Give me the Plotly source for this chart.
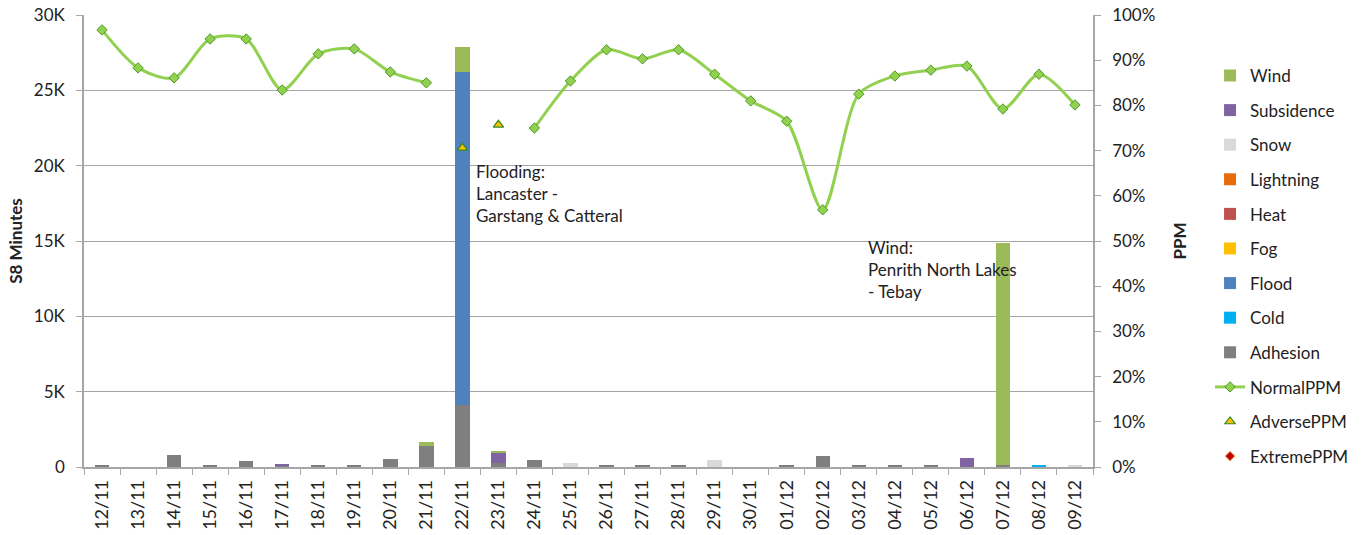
import plotly.graph_objects as go

dates = ["12/11","13/11","14/11","15/11","16/11","17/11","18/11","19/11","20/11","21/11",
         "22/11","23/11","24/11","25/11","26/11","27/11","28/11","29/11","30/11","01/12",
         "02/12","03/12","04/12","05/12","06/12","07/12","08/12","09/12"]

adhesion   = [90,0,820,70,380,130,70,70,530,1420,4100,250,470,0,70,70,70,0,0,70,730,70,70,70,0,150,0,0]
cold       = [0]*26 + [110, 0]
flood      = [0]*10 + [22100] + [0]*17
fog        = [0]*28
heat       = [0]*28
lightning  = [0]*28
snow       = [0]*13 + [290] + [0]*3 + [440] + [0]*9 + [150]
subsidence = [0,0,0,0,0,100,0,0,0,0,0,690,0,0,0,0,0,0,0,0,0,0,0,0,600,0,0,0]
wind       = [0]*9 + [220, 1700, 70] + [0]*13 + [14700, 0, 0]

normal_ppm = [0.967,0.883,0.861,0.947,0.947,0.834,0.914,0.925,0.874,0.850,
              None,None,0.750,0.854,0.923,0.903,0.923,0.869,0.810,0.765,
              0.569,0.825,0.865,0.878,0.887,0.792,0.869,0.801]
adverse_ppm = [None]*10 + [0.706, 0.757] + [None]*16
extreme_ppm = [None]*28

bar_series = [
    ("Adhesion", adhesion, "#7F7F7F", 9),
    ("Cold", cold, "#00B0F0", 8),
    ("Flood", flood, "#4F81BD", 7),
    ("Fog", fog, "#FFC000", 6),
    ("Heat", heat, "#C0504D", 5),
    ("Lightning", lightning, "#E46C0A", 4),
    ("Snow", snow, "#D9D9D9", 3),
    ("Subsidence", subsidence, "#8064A2", 2),
    ("Wind", wind, "#9BBB59", 1),
]

FONT = "Lato, 'Open Sans', sans-serif"

fig = go.Figure()
for name, vals, col, rank in bar_series:
    fig.add_trace(go.Bar(x=dates, y=vals, name=name, marker=dict(color=col, line=dict(width=0)),
                         legendrank=rank, legendgroup=name))

fig.add_trace(go.Scatter(x=dates, y=normal_ppm, name="NormalPPM", mode="lines+markers",
                         yaxis="y2", line=dict(color="#92D050", width=3, shape="spline", smoothing=0.8),
                         marker=dict(symbol="diamond", size=8, color="#92D050",
                                     line=dict(color="#4E9A2A", width=1)),
                         connectgaps=False, legendrank=10, legendgroup="NormalPPM"))
fig.add_trace(go.Scatter(x=dates, y=adverse_ppm, name="AdversePPM", mode="markers",
                         yaxis="y2",
                         marker=dict(symbol="triangle-up", size=9, color="#FFC000",
                                     line=dict(color="#2E8B22", width=1.2)),
                         legendrank=11, legendgroup="AdversePPM"))
fig.add_trace(go.Scatter(x=dates, y=extreme_ppm, name="ExtremePPM", mode="markers",
                         yaxis="y2",
                         marker=dict(symbol="diamond", size=7, color="#C00000",
                                     line=dict(color="#E46C0A", width=1)),
                         legendrank=12, legendgroup="ExtremePPM"))

fig.add_annotation(x=10, y=0.682, xref="x", yref="y2", xanchor="left", yanchor="top",
                   xshift=12, text="Flooding:<br>Lancaster -<br>Garstang & Catteral",
                   showarrow=False, align="left", font=dict(size=17, color="#222"))
fig.add_annotation(x=21.21, y=0.513, xref="x", yref="y2", xanchor="left", yanchor="top",
                   text="Wind:<br>Penrith North Lakes<br>- Tebay",
                   showarrow=False, align="left", font=dict(size=17, color="#222"))

fig.update_layout(
    width=1370, height=535,
    margin=dict(l=84, r=277, t=15, b=68, autoexpand=False),
    barmode="stack", bargap=0.6,
    plot_bgcolor="white", paper_bgcolor="white",
    font=dict(family=FONT, size=16, color="#222"),
    showlegend=True,
    legend=dict(x=1.116, xanchor="left", y=0.905, yanchor="top",
                traceorder="grouped", tracegroupgap=9.5,
                font=dict(size=17), itemwidth=30),
    xaxis=dict(type="category", range=[-0.5, 27.5], tickangle=-90, showgrid=False, showline=True,
               automargin=False,
               linecolor="#A6A6A6", linewidth=1.5, ticks="outside", tickson="boundaries",
               ticklen=6, tickcolor="#A6A6A6", tickfont=dict(size=18), ticklabelstandoff=4),
    yaxis=dict(range=[0, 30000], tickvals=[0,5000,10000,15000,20000,25000,30000],
               ticktext=["0","5K","10K","15K","20K","25K","30K"], automargin=False,
               showgrid=True, gridcolor="#A6A6A6", gridwidth=1.2,
               showline=True, linecolor="#A6A6A6", linewidth=1.5,
               ticks="outside", ticklen=6, tickcolor="#A6A6A6", zeroline=False,
               tickfont=dict(size=17), ticklabelstandoff=8, ticklabeloverflow="allow",
               title=dict(text="<b>S8 Minutes</b>", font=dict(size=17), standoff=7)),
    yaxis2=dict(range=[0, 1], overlaying="y", side="right", tickformat=".0%", dtick=0.1,
                automargin=False,
                showgrid=False, showline=True, linecolor="#A6A6A6", linewidth=1.5,
                ticks="outside", ticklen=6, tickcolor="#A6A6A6", zeroline=False,
                tickfont=dict(size=17), ticklabelstandoff=8, ticklabeloverflow="allow",
                title=dict(text="<b>PPM</b>", font=dict(size=17), standoff=20)),
)

fig.write_html("out.html", config={"displayModeBar": False},
               post_script="document.body.style.margin='0';")
